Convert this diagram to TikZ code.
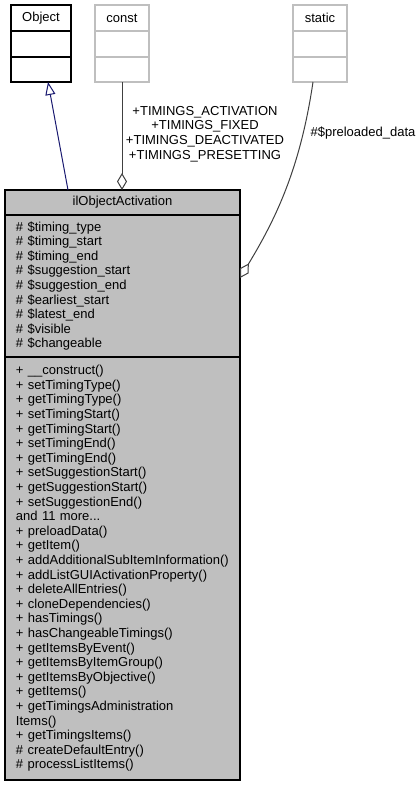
\documentclass[tikz,border=0pt]{standalone}
\usepackage{fontspec}
\setmainfont{Liberation Sans}
\usetikzlibrary{arrows.meta,positioning,calc}
\definecolor{Ink}{HTML}{404040}
\definecolor{Navy}{HTML}{191970}
\definecolor{Grey}{HTML}{BFBFBF}
\newcommand{\umlfont}{\fontsize{13}{14.6}\selectfont\hyphenpenalty=10000\relax}

\begin{document}
\begin{tikzpicture}[x=1pt,y=-1pt,
  txt/.style={font=\umlfont},
  cell/.style={draw=black,line width=1.4pt,fill=white,minimum height=26pt,inner sep=0pt,outer sep=0pt,txt},
  faint/.style={cell,draw=Grey,minimum width=54pt},
  part/.style={draw=black,line width=1.4pt,fill=Grey,text width=213pt,inner xsep=11pt,inner ysep=0pt,outer sep=0pt,align=left,txt},
  inherit/.style={Navy,line width=1pt,-{Triangle[open,length=13pt,width=10pt]}},
  aggr/.style={Ink,line width=1pt,-{Diamond[open,length=17pt,width=10pt]}}]
  \fill[white] (0,0) rectangle (419,785);
  \useasboundingbox (0,0) rectangle (419,785);
  % parent class
  \node[cell,minimum width=60pt,anchor=north west] (objT) at (11,5) {Object};
  \node[cell,minimum width=60pt,below=0pt of objT] (objA) {};
  \node[cell,minimum width=60pt,below=0pt of objA,minimum height=25pt] (objO) {};
  % const and static
  \node[faint,anchor=north west] (constT) at (95,5) {const};
  \node[faint,below=0pt of constT] (constA) {};
  \node[faint,below=0pt of constA,minimum height=25pt] (constO) {};
  \node[faint,anchor=north west] (staticT) at (293,5) {static};
  \node[faint,below=0pt of staticT] (staticA) {};
  \node[faint,below=0pt of staticA,minimum height=25pt] (staticO) {};
  % main class
  \node[part,align=center,minimum height=25pt,anchor=north west] (mainT) at (5,190) {ilObjectActivation};
  \node[part,below=0pt of mainT,minimum height=142pt] (mainA) {\# \$timing\_type\\\# \$timing\_start\\\# \$timing\_end\\\# \$suggestion\_start\\\# \$suggestion\_end\\\# \$earliest\_start\\\# \$latest\_end\\\# \$visible\\\# \$changeable};
  \node[part,below=0pt of mainA,minimum height=423pt] (mainO) {+ \_\_construct()\\+ setTimingType()\\+ getTimingType()\\+ setTimingStart()\\+ getTimingStart()\\+ setTimingEnd()\\+ getTimingEnd()\\+ setSuggestionStart()\\+ getSuggestionStart()\\+ setSuggestionEnd()\\and 11 more...\\+ preloadData()\\+ getItem()\\+~addAdditionalSubItemInformation()\\+ addListGUIActivationProperty()\\+ deleteAllEntries()\\+ cloneDependencies()\\+ hasTimings()\\+ hasChangeableTimings()\\+ getItemsByEvent()\\+ getItemsByItemGroup()\\+ getItemsByObjective()\\+ getItems()\\+ getTimingsAdministration\\Items()\\+ getTimingsItems()\\\# createDefaultEntry()\\\# processListItems()};
  % relations
  \draw[inherit] ($(mainT.north west)+(63,0)$) -- ($(objO.south west)+(37,0)$);
  \draw[aggr] (constO.south) -- (constO.south |- mainT.north);
  \draw[aggr] ($(staticO.south west)+(20,0)$) .. controls +(-13,88) and +(35,-58) .. ($(mainA.north east)+(0,63)$);
  \node[txt,align=center] (constL) at (205,134) {+TIMINGS\_ACTIVATION\\+TIMINGS\_FIXED\\+TIMINGS\_DEACTIVATED\\+TIMINGS\_PRESETTING};
  \node[txt] (staticL) at (363,133) {\#\$preloaded\_data};
\end{tikzpicture}
\end{document}
